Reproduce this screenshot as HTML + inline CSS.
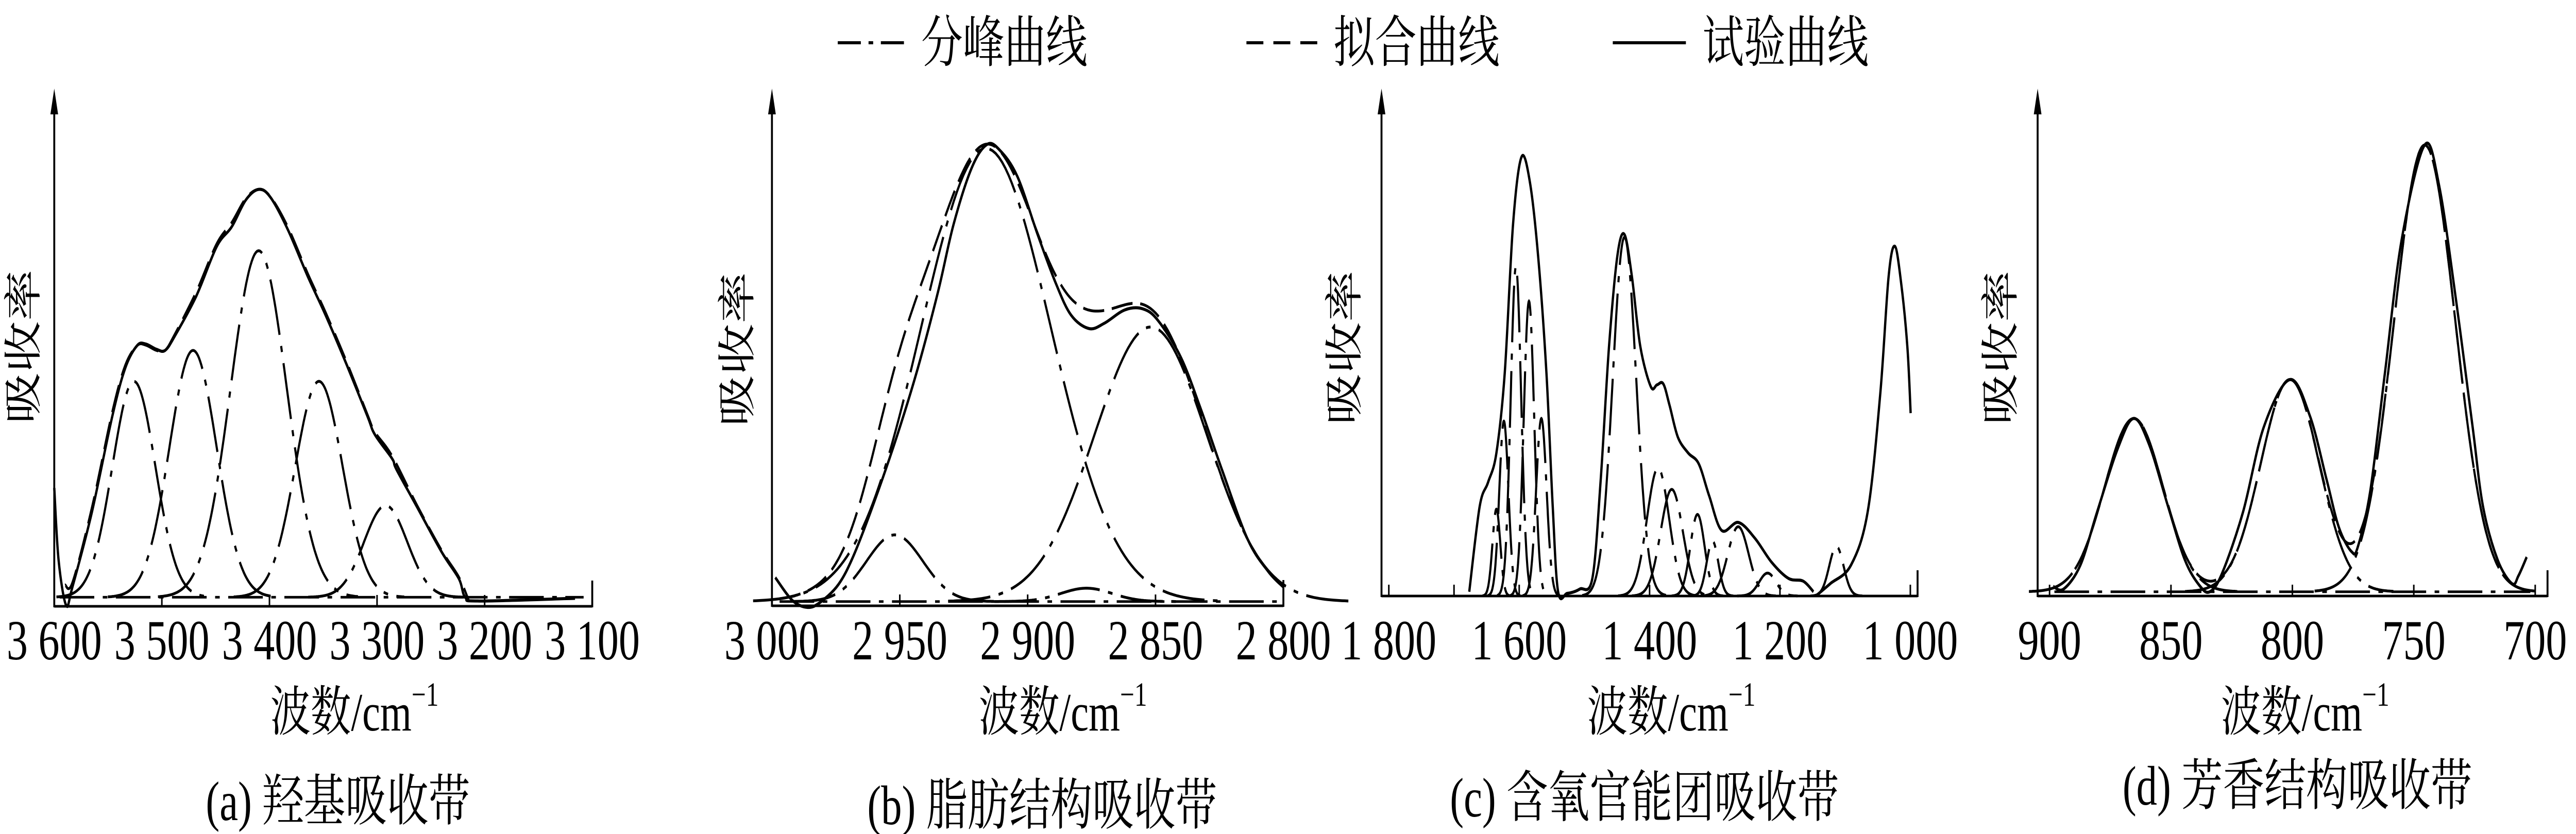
<!DOCTYPE html>
<html><head><meta charset="utf-8"><meta name="viewport" content="width=6694">
<style>
html,body{margin:0;padding:0;background:#fff;width:100%;height:100%;overflow:hidden}
svg{display:block;position:absolute;left:0;top:0;width:100vw;height:100vh}
text{font-family:"Liberation Serif","Noto Serif CJK SC",serif;fill:#000}
</style></head><body>
<svg id="fig" viewBox="0 0 6694 1619" preserveAspectRatio="none" xmlns="http://www.w3.org/2000/svg">
<g>
 <g>
  <line x1="2177" y1="83" x2="2361" y2="83" stroke="#000" stroke-width="6" stroke-dasharray="60,20,12,20"/>
  <text x="2394" y="83" font-size="108" dominant-baseline="central">分峰曲线</text>
 </g>
 <g>
  <line x1="3239" y1="83" x2="3427" y2="83" stroke="#000" stroke-width="6" stroke-dasharray="44,26"/>
  <text x="3465" y="83" font-size="108" dominant-baseline="central">拟合曲线</text>
 </g>
 <g>
  <line x1="4191" y1="83" x2="4381" y2="83" stroke="#000" stroke-width="6"/>
  <text x="4424" y="83" font-size="108" dominant-baseline="central">试验曲线</text>
 </g>
</g>
</svg>
<script>
// ---------- Panel (a) 羟基 ----------
const ticksA = [3600, 3500, 3400, 3300, 3200, 3100];
const tickLabelsA = ["3 600", "3 500", "3 400", "3 300", "3 200", "3 100"];
const compCentersA = [3526, 3471, 3410, 3354, 3292];
const compHeightsA = [405, 463, 650, 405, 172];
const compSigmasA = [20, 22, 26, 22, 20];
const baseA = [17];
const expWnA = [3600,3596,3589,3583,3565,3546,3534,3523,3515,3505,3497,3488,3468,3449,3435,3422,3410,3399,3383,3364,3348,3329,3309,3302,3286,3282,3263,3240,3224,3218,3205,3116];
const expValA = [222,87,2,37,177,357,447,489,492,482,480,507,582,675,712,762,782,767,707,617,547,457,357,322,277,257,187,102,52,17,10,15];
const fitWnA = [3590,3583,3565,3546,3534,3523,3515,3505,3497,3488,3468,3449,3435,3422,3410,3399,3383,3364,3348,3329,3309,3302,3286,3263,3240,3224,3215];
const fitValA = [40,45,185,365,452,489,490,480,480,510,590,680,720,765,782,768,712,622,552,462,360,327,282,190,105,55,12];

// ---------- Panel (b) 脂肪结构 ----------
const ticksB = [3000, 2950, 2900, 2850, 2800];
const tickLabelsB = ["3 000", "2 950", "2 900", "2 850", "2 800"];
const compCentersB = [2952, 2916.3, 2851.9, 2877];
const compHeightsB = [125, 850, 515, 25];
const compSigmasB = [11, 25.3, 22, 10];
const baseB = [8];
const expWnB = [2998.7,2992,2986,2981,2974,2968,2960,2951,2943,2935,2929,2922,2916,2911,2904,2896,2889,2883,2876,2870,2862,2855,2849,2840,2832,2824,2814,2806,2800];
const expValB = [53,10,-3,7,40,95,195,320,445,590,715,820,865,855,805,695,605,545,520,530,555,557,535,465,365,255,125,65,35];

// ---------- Panel (c) 含氧官能团 ----------
const ticksC = [1800, 1700, 1600, 1400, 1200, 1000];
const tickLabelWnC = [1800, 1600, 1400, 1200, 1000];
const tickLabelsC = ["1 800", "1 600", "1 400", "1 200", "1 000"];
const compCentersC = [1635,1623.5,1605,1585,1566,1438.5,1387,1366,1326.5,1303.5,1264,1219,1113.4];
const compHeightsC = [163,328,618,553,333,673,240,200,153,103,130,43,93];
const compSigmasC = [6,7,8,8,8,18,17,17,11,9,16,13,11];
const expWnC = [1676.6,1660.6,1647.8,1635,1622.2,1609.4,1596.6,1583.8,1571,1558.2,1548.6,1540.3,1526.2,1507,1487.8,1475,1462.2,1449.4,1438.5,1427,1414.2,1398.2,1388.6,1379,1369.4,1356.6,1340.6,1324.6,1308.6,1289.4,1263.8,1238.2,1212.6,1187,1164.6,1148.6];
const expValC = [8,168,213,268,418,698,823,778,638,418,168,8,5,13,33,218,468,638,678,598,468,393,396,398,358,298,268,248,188,123,138,108,63,33,28,8];
const exp2WnC = [1145,1123,1091,1065.4,1046.2,1033.4,1023.8,1014.2,1004.6,999.5];
const exp2ValC = [0,23,58,158,378,598,656,588,468,343];

// ---------- Panel (d) 芳香结构 ----------
const ticksD = [900, 850, 800, 750, 700];
const tickLabelsD = ["900", "850", "800", "750", "700"];
const compCentersD = [865.3, 801, 745.5];
const compHeightsD = [325, 398, 838];
const compSigmasD = [12, 12, 12.6];
const baseD = [8];
const expWnD = [898.5,894.2,887.3,880.4,871.8,865.3,858.9,851.2,844.3,838.3,834,828.9,820.3,811.7,801,792.8,785.9,780.8,775.6,773,767.9,761.9,755,745.5,739.5,732.7,725.8,721.5,715.5,709.5,706.9,703.5];
const expValD = [18,13,58,158,278,333,283,168,68,20,8,43,158,318,406,338,218,128,83,93,198,418,668,846,768,558,318,168,68,23,38,73];

const NS = "http://www.w3.org/2000/svg";
const svg = document.getElementById("fig");
const YS = 1.035;

function mk(tag, attrs, parent) {
  const e = document.createElementNS(NS, tag);
  for (const k in attrs) e.setAttribute(k, attrs[k]);
  parent.appendChild(e);
  return e;
}
function gauss(w, c, h, s) { return h * Math.exp(-((w - c) * (w - c)) / (2 * s * s)); }
function smooth(P) {
  let d = "M" + P[0][0].toFixed(1) + "," + P[0][1].toFixed(1);
  for (let i = 0; i < P.length - 1; i++) {
    const p0 = P[i - 1] || P[i], p1 = P[i], p2 = P[i + 1], p3 = P[i + 2] || p2;
    const c1 = [p1[0] + (p2[0] - p0[0]) / 6, p1[1] + (p2[1] - p0[1]) / 6];
    const c2 = [p2[0] - (p3[0] - p1[0]) / 6, p2[1] - (p3[1] - p1[1]) / 6];
    d += ` C${c1[0].toFixed(1)},${c1[1].toFixed(1)} ${c2[0].toFixed(1)},${c2[1].toFixed(1)} ${p2[0].toFixed(1)},${p2[1].toFixed(1)}`;
  }
  return d;
}

function panel(cfg) {
  const g = mk("g", {}, svg);
  
  
  const X = w => cfg.px0 + (cfg.wn0 - w) * cfg.k;
  const Y = v => cfg.base - v * YS;
  const ax = mk("g", {}, g);
  
  
  mk("line", {x1: cfg.yAxisX, y1: cfg.base, x2: cfg.xEnd, y2: cfg.base, stroke: "#000", "stroke-width": 5}, ax);
  mk("line", {x1: cfg.yAxisX, y1: cfg.base + 2, x2: cfg.yAxisX, y2: 215, stroke: "#000", "stroke-width": 5}, ax);
  const arr = mk("polygon", {points: `${cfg.yAxisX},172 ${cfg.yAxisX - 10},222 ${cfg.yAxisX + 10},222`, fill: "#000"}, ax);
  
  
  mk("line", {x1: cfg.xEnd, y1: cfg.base + 2, x2: cfg.xEnd, y2: cfg.base - 50, stroke: "#000", "stroke-width": 5}, ax);
  cfg.ticks.forEach(t => {
    const tl = mk("line", {x1: X(t), y1: cfg.base, x2: X(t), y2: cfg.base - 22, stroke: "#000", "stroke-width": 4}, ax);
    
    
  });
  cfg.labelWn.forEach((t, i) => {
    const tx = mk("text", {x: X(t), y: 1280, "font-size": 110, "text-anchor": "middle"}, ax);
    tx.textContent = cfg.labels[i];
    
    
  });
  const xt = mk("text", {x: cfg.titleX, y: 1418, "font-size": 105, "text-anchor": "middle"}, ax);
  
  
  xt.innerHTML = '波数/cm<tspan font-size="66" dy="-48">−1</tspan>';
  const yt = mk("text", {x: 0, y: 0, "font-size": 100, "text-anchor": "middle", "dominant-baseline": "central", transform: `translate(${cfg.yTitleX},${cfg.yTitleY}) rotate(-90)`}, ax);
  yt.textContent = "吸收率";
  
  
  const cap = mk("text", {x: cfg.capX, y: cfg.capY, "font-size": 108, "text-anchor": "middle"}, g);
  cap.textContent = cfg.caption;
  
  

  const line = pts => pts.map((p, i) => (i ? "L" : "M") + X(p[0]).toFixed(1) + "," + Y(p[1]).toFixed(1)).join(" ");
  const base = cfg.baseVal ? cfg.baseVal[0] : 0;
  if (cfg.baseVal) {
    const bl = mk("path", {d: line([[cfg.wnStart, base], [cfg.wnEnd, base]]), fill: "none", stroke: "#000", "stroke-width": 5, "stroke-dasharray": "90,22,12,22"}, g);
    
    
  }
  cfg.cc.forEach((c, i) => {
    const h = cfg.ch[i], s = cfg.cs[i], pts = [];
    for (let w = c + 3.6 * s; w >= c - 3.6 * s; w -= s / 20) pts.push([w, base + gauss(w, c, h, s)]);
    const p = mk("path", {d: line(pts), fill: "none", stroke: "#000", "stroke-width": 5.5, "stroke-dasharray": "110,22,12,22"}, g);
    
    
  });
  if (cfg.fitWn) {
    const pts = cfg.fitWn.map((w, i) => [w, cfg.fitVal[i]]);
    const p = mk("path", {d: smooth(pts.map(q => [X(q[0]), Y(q[1])])), fill: "none", stroke: "#000", "stroke-width": 5.5, "stroke-dasharray": "55,20"}, g);
    
    
  } else if (cfg.fitSum) {
    const pts = [];
    for (let w = cfg.fitSum[0]; w >= cfg.fitSum[1]; w -= 0.5) {
      let v = base;
      cfg.cc.forEach((c, i) => { v += gauss(w, c, cfg.ch[i], cfg.cs[i]); });
      pts.push([w, v]);
    }
    const p = mk("path", {d: line(pts), fill: "none", stroke: "#000", "stroke-width": 5.5, "stroke-dasharray": "55,20"}, g);
    
    
  }
  cfg.exp.forEach(ser => {
    const pts = ser[0].map((w, i) => [w, ser[1][i]]);
    const p = mk("path", {d: smooth(pts.map(q => [X(q[0]), Y(q[1])])), fill: "none", stroke: "#000", "stroke-width": 6, "stroke-linejoin": "round"}, g);
    
    
  });
}

panel({name: "panel-a-hydroxyl", px0: 141, wn0: 3600, k: 2.796, yAxisX: 141, xEnd: 1539, base: 1177,
  ticks: ticksA, labelWn: ticksA, labels: tickLabelsA, titleX: 921, yTitleX: 62, yTitleY: 673, capX: 878, capY: 1592, caption: "(a) 羟基吸收带",
  baseVal: baseA, wnStart: 3595, wnEnd: 3108, cc: compCentersA, ch: compHeightsA, cs: compSigmasA,
  fitWn: fitWnA, fitVal: fitValA, exp: [[expWnA, expValA]]});
panel({name: "panel-b-aliphatic", px0: 2006, wn0: 3000, k: 6.645, yAxisX: 2006, xEnd: 3335, base: 1176,
  ticks: ticksB, labelWn: ticksB, labels: tickLabelsB, titleX: 2762, yTitleX: 1917, yTitleY: 678, capX: 2708, capY: 1600, caption: "(b) 脂肪结构吸收带",
  baseVal: baseB, wnStart: 2997, wnEnd: 2802, cc: compCentersB, ch: compHeightsB, cs: compSigmasB,
  fitSum: [2997, 2801], exp: [[expWnB, expValB]]});
panel({name: "panel-c-oxygen-groups", px0: 3609, wn0: 1800, k: 1.694, yAxisX: 3590, xEnd: 4983, base: 1157,
  ticks: ticksC, labelWn: tickLabelWnC, labels: tickLabelsC, titleX: 4343, yTitleX: 3495, yTitleY: 675, capX: 4273, capY: 1585, caption: "(c) 含氧官能团吸收带",
  cc: compCentersC, ch: compHeightsC, cs: compSigmasC, exp: [[expWnC, expValC], [exp2WnC, exp2ValC]]});
panel({name: "panel-d-aromatic", px0: 5326, wn0: 900, k: 6.31, yAxisX: 5295, xEnd: 6620, base: 1157,
  ticks: ticksD, labelWn: ticksD, labels: tickLabelsD, titleX: 5990, yTitleX: 5200, yTitleY: 675, capX: 5970, capY: 1562, caption: "(d) 芳香结构吸收带",
  baseVal: baseD, wnStart: 898, wnEnd: 702, cc: compCentersD, ch: compHeightsD, cs: compSigmasD,
  fitSum: [898, 702], exp: [[expWnD, expValD]]});
</script>
</body></html>
